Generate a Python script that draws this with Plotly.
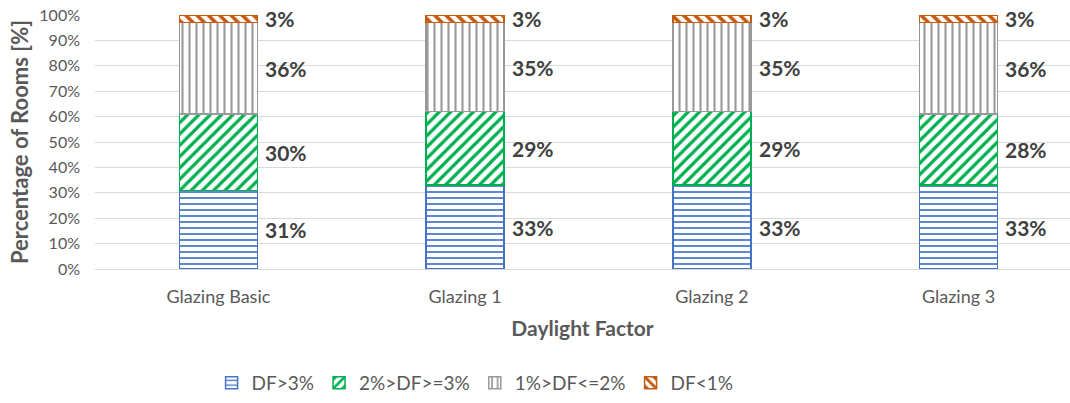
import plotly.graph_objects as go

categories = ["Glazing Basic", "Glazing 1", "Glazing 2", "Glazing 3"]
series_names = ["DF>3%", "2%>DF>=3%", "1%>DF<=2%", "DF<1%"]
df_gt3 = [31, 33, 33, 33]
df_2_3 = [30, 29, 29, 28]
df_1_2 = [36, 35, 35, 36]
df_lt1 = [3, 3, 3, 3]
y_ticks = [0, 10, 20, 30, 40, 50, 60, 70, 80, 90, 100]

series_values = [df_gt3, df_2_3, df_1_2, df_lt1]
colors = ["#4472C4", "#00B050", "#999999", "#C55A11"]
shapes = ["-", "/", "|", "\\"]
sizes = [6, 8, 7, 8]
solidities = [0.28, 0.4, 0.3, 0.45]

FONT = "Lato, Open Sans, sans-serif"

fig = go.Figure()
for name, vals, col, shp, sz, sol in zip(series_names, series_values, colors, shapes, sizes, solidities):
    fig.add_trace(go.Bar(
        x=categories, y=vals, name=name, width=0.316,
        marker=dict(color="white", line=dict(color=col, width=1.5),
                    pattern=dict(shape=shp, fgcolor=col, bgcolor="white", fgopacity=1,
                                 size=sz, solidity=sol, fillmode="overlay")),
        hoverinfo="skip",
    ))

# data labels at segment midpoints, right of the bar
for i, cat in enumerate(categories):
    base = 0
    for vals in series_values:
        v = vals[i]
        fig.add_annotation(x=cat, y=base + v / 2, xref="x", yref="y",
                           text=f"<b>{v}%</b>", showarrow=False,
                           xanchor="left", yanchor="middle", xshift=45,
                           font=dict(family=FONT, size=21, color="#404040"))
        base += v

fig.update_layout(
    barmode="stack",
    width=1070, height=403,
    margin=dict(l=95, r=0, t=15, b=134, autoexpand=False),
    plot_bgcolor="white", paper_bgcolor="white",
    font=dict(family=FONT, color="#595959"),
    legend=dict(orientation="h", x=0.444, xanchor="center", xref="container",
                y=0.05, yanchor="middle", yref="container",
                font=dict(size=19, color="#595959"),
                itemwidth=30, traceorder="normal", itemclick=False),
    showlegend=True,
)
fig.update_yaxes(range=[0, 100], tickvals=y_ticks, ticktext=[f"{t}%" for t in y_ticks],
                 showgrid=True, gridcolor="#D9D9D9", gridwidth=1, zeroline=False,
                 tickfont=dict(size=16, color="#595959"), ticklabelstandoff=14,
                 title=dict(text="<b>Percentage of Rooms [%]</b>", font=dict(size=22, color="#595959"), standoff=4),
                 showline=False)
fig.update_xaxes(range=[-0.5, 3.452], showgrid=False, showline=True, linecolor="#D9D9D9", linewidth=1,
                 tickfont=dict(size=18, color="#595959"), ticklabelstandoff=11,
                 title=dict(text="<b>Daylight Factor</b>", font=dict(size=21, color="#595959"), standoff=15))

fig.write_html("out.html", post_script="document.body.style.margin='0';",
               config={"displayModeBar": False})
